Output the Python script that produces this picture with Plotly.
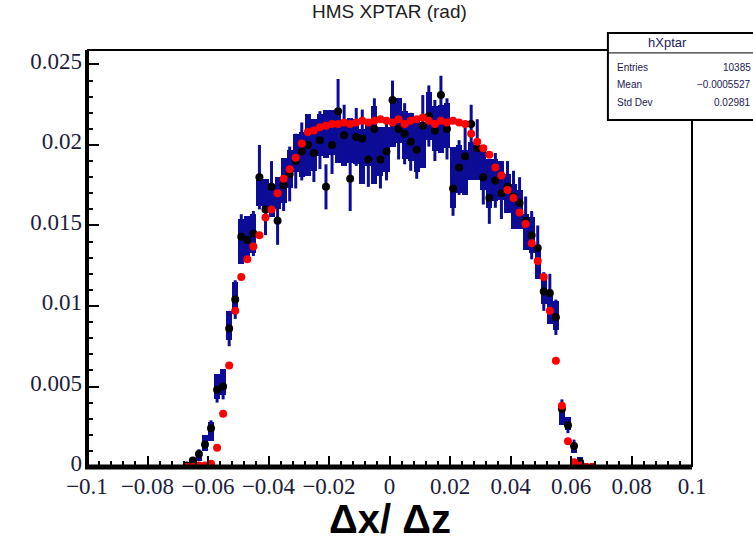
import numpy as np
import plotly.graph_objects as go

# Bin centres of the XPTAR histogram (bin width 0.002 rad), only the populated range
bin_width = 0.002
centers = np.round(np.arange(-0.067, 0.0671, bin_width), 4)

# Data set A: black markers with navy error lines
data_a = [
    0.0001, 0.0004, 0.0008, 0.0014, 0.0024, 0.0048, 0.0050, 0.0086, 0.0104, 0.0143,
    0.0141, 0.0145, 0.0180, 0.0160, 0.0174, 0.0153, 0.0175, 0.0182, 0.0190, 0.0196,
    0.0200, 0.0195, 0.0203, 0.0174, 0.0200, 0.0221, 0.0206, 0.0179, 0.0205, 0.0204,
    0.0191, 0.0210, 0.0191, 0.0196, 0.0228, 0.0210, 0.0207, 0.0202, 0.0197, 0.0212,
    0.0218, 0.0209, 0.0231, 0.0210, 0.0173, 0.0186, 0.0193, 0.0213, 0.0198, 0.0180,
    0.0167, 0.0178, 0.0170, 0.0174, 0.0168, 0.0164, 0.0153, 0.0144, 0.0136, 0.0109,
    0.0108, 0.0093, 0.0036, 0.0026, 0.0013, 0.0003, 0.0000, 0.0000,
]
err_a = [
    0.0001, 0.0002, 0.0003, 0.0004, 0.0005, 0.0008, 0.0008, 0.0011, 0.0012, 0.0014,
    0.0014, 0.0014, 0.0020, 0.0016, 0.0016, 0.0015, 0.0016, 0.0017, 0.0017, 0.0018,
    0.0018, 0.0018, 0.0018, 0.0014, 0.0018, 0.0020, 0.0019, 0.0020, 0.0018, 0.0018,
    0.0017, 0.0019, 0.0018, 0.0018, 0.0012, 0.0019, 0.0019, 0.0018, 0.0018, 0.0019,
    0.0019, 0.0019, 0.0012, 0.0019, 0.0017, 0.0017, 0.0018, 0.0012, 0.0018, 0.0017,
    0.0016, 0.0017, 0.0016, 0.0016, 0.0016, 0.0016, 0.0015, 0.0015, 0.0014, 0.0012,
    0.0012, 0.0011, 0.0006, 0.0005, 0.0004, 0.0002, 0.0001, 0.0000,
]

# Data set B: navy error boxes (centre and half-height)
data_b = [
    0.0001, 0.0003, 0.0007, 0.0015, 0.0022, 0.0050, 0.0053, 0.0088, 0.0105, 0.0140,
    0.0143, 0.0145, 0.0170, 0.0170, 0.0165, 0.0170, 0.0178, 0.0185, 0.0195, 0.0194,
    0.0200, 0.0200, 0.0206, 0.0207, 0.0208, 0.0204, 0.0200, 0.0203, 0.0202, 0.0193,
    0.0200, 0.0200, 0.0196, 0.0197, 0.0214, 0.0215, 0.0206, 0.0205, 0.0200, 0.0200,
    0.0218, 0.0210, 0.0210, 0.0212, 0.0180, 0.0185, 0.0183, 0.0190, 0.0189, 0.0185,
    0.0176, 0.0178, 0.0178, 0.0170, 0.0162, 0.0160, 0.0146, 0.0144, 0.0126, 0.0109,
    0.0098, 0.0094, 0.0030, 0.0027, 0.0012, 0.0004, 0.0001, 0.0000,
]
err_b = [
    0.0001, 0.0002, 0.0003, 0.0005, 0.0006, 0.0008, 0.0008, 0.0009, 0.0010, 0.0014,
    0.0013, 0.0012, 0.0008, 0.0009, 0.0010, 0.0010, 0.0014, 0.0012, 0.0012, 0.0014,
    0.0019, 0.0016, 0.0013, 0.0015, 0.0014, 0.0015, 0.0013, 0.0014, 0.0014, 0.0017,
    0.0013, 0.0024, 0.0015, 0.0014, 0.0015, 0.0014, 0.0015, 0.0015, 0.0017, 0.0014,
    0.0015, 0.0014, 0.0015, 0.0014, 0.0019, 0.0015, 0.0014, 0.0012, 0.0011, 0.0013,
    0.0015, 0.0013, 0.0012, 0.0012, 0.0014, 0.0012, 0.0011, 0.0011, 0.0009, 0.0008,
    0.0009, 0.0009, 0.0004, 0.0004, 0.0003, 0.0002, 0.0001, 0.0000,
]

# Simulation: red markers
sim = [
    0.0000, 0.0000, 0.0001, 0.0001, 0.0002, 0.0012, 0.0033, 0.0063, 0.0097, 0.0118,
    0.0129, 0.0137, 0.0144, 0.0155, 0.0160, 0.0170, 0.0179, 0.0185, 0.0192, 0.0201,
    0.0208, 0.0209, 0.0211, 0.0212, 0.0213, 0.0213, 0.0214, 0.0213, 0.0214, 0.0215,
    0.0214, 0.0215, 0.0216, 0.0215, 0.0214, 0.0216, 0.0213, 0.0215, 0.0216, 0.0217,
    0.0215, 0.0213, 0.0215, 0.0214, 0.0215, 0.0214, 0.0213, 0.0207, 0.0202, 0.0198,
    0.0194, 0.0186, 0.0181, 0.0172, 0.0167, 0.0158, 0.0151, 0.0139, 0.0128, 0.0118,
    0.0097, 0.0066, 0.0038, 0.0016, 0.0003, 0.0001, 0.0000, 0.0000,
]

x_ticks = [-0.1, -0.08, -0.06, -0.04, -0.02, 0, 0.02, 0.04, 0.06, 0.08, 0.1]
x_tick_text = ["\u22120.1", "\u22120.08", "\u22120.06", "\u22120.04", "\u22120.02", "0",
               "0.02", "0.04", "0.06", "0.08", "0.1"]
y_ticks = [0, 0.005, 0.01, 0.015, 0.02, 0.025]
y_tick_text = ["0", "0.005", "0.01", "0.015", "0.02", "0.025"]

stats_rows = [("Entries", "10385"), ("Mean", "\u22120.0005527"), ("Std Dev", "0.02981")]

NAVY = "#0c0c96"

fig = go.Figure()

# Error boxes of data set B
box_lo = [v - e for v, e in zip(data_b, err_b)]
box_h = [max(2 * e, 0.00015) for e in err_b]
fig.add_trace(go.Bar(
    x=centers, y=box_h, base=box_lo, width=bin_width,
    marker=dict(color=NAVY, line=dict(width=0)), showlegend=False,
))

# Data set A with its error lines
fig.add_trace(go.Scatter(
    x=centers, y=data_a, mode="markers",
    marker=dict(color="black", size=8),
    error_y=dict(type="data", array=err_a, color=NAVY, thickness=3, width=0),
    showlegend=False,
))

# Simulation
fig.add_trace(go.Scatter(
    x=centers, y=sim, mode="markers",
    marker=dict(color="#ff0000", size=8),
    showlegend=False,
))

axis_font = dict(family="Liberation Serif", size=23, color="#1c1c3c")

fig.update_xaxes(
    range=[-0.1, 0.1], tickvals=x_ticks, ticktext=x_tick_text,
    ticks="inside", ticklen=11, tickwidth=2, tickcolor="black",
    minor=dict(dtick=0.004, tick0=0, ticks="inside", ticklen=6, tickwidth=2, tickcolor="black"),
    showgrid=False, zeroline=False, showline=False, tickfont=axis_font,
    ticklabelstandoff=3,
)
fig.update_yaxes(
    range=[0, 0.0259], tickvals=y_ticks, ticktext=y_tick_text,
    ticks="inside", ticklen=12, tickwidth=2, tickcolor="black",
    minor=dict(dtick=0.001, tick0=0, ticks="inside", ticklen=6, tickwidth=2, tickcolor="black"),
    showgrid=False, zeroline=False, showline=False, tickfont=axis_font,
    ticklabelstandoff=4, ticklabelshift=-4,
)

# Frame: heavy left/bottom axes, lighter top/right edges
shapes = [
    dict(type="line", xref="paper", yref="paper", x0=0, x1=1, y0=1, y1=1,
         line=dict(color="black", width=2)),
    dict(type="line", xref="paper", yref="paper", x0=1, x1=1, y0=0, y1=1,
         line=dict(color="black", width=2)),
    dict(type="line", xref="paper", yref="paper", x0=0, x1=0, y0=-0.005, y1=1,
         line=dict(color="black", width=4)),
    dict(type="line", xref="paper", yref="paper", x0=-0.003, x1=1, y0=0, y1=0,
         line=dict(color="black", width=5)),
]

# Statistics box
bx0, bx1, by0, by1, byh = 0.861, 1.11, 0.832, 1.041, 0.993
shapes += [
    dict(type="rect", xref="paper", yref="paper", x0=bx0, x1=bx1, y0=by0, y1=by1,
         fillcolor="white", line=dict(color="black", width=2), layer="above"),
    dict(type="line", xref="paper", yref="paper", x0=bx0, x1=bx1, y0=byh, y1=byh,
         line=dict(color="black", width=1), layer="above"),
]

annotations = [
    dict(text="hXptar", x=0.96, y=1.018, xref="paper", yref="paper",
         showarrow=False, xanchor="center", yanchor="middle",
         font=dict(family="Liberation Sans", size=13, color="#202060")),
    dict(text="HMS XPTAR (rad)", x=0.5, y=1.092, xref="paper", yref="paper",
         showarrow=False, xanchor="center", yanchor="middle",
         font=dict(family="Liberation Sans", size=19, color="#202020")),
    dict(text="<b>\u0394x/ \u0394z</b>", x=0.5, y=-0.125, xref="paper", yref="paper",
         showarrow=False, xanchor="center", yanchor="middle",
         font=dict(family="Liberation Sans", size=40, color="black")),
]
row_y = [0.958, 0.917, 0.874]
for (name, val), ry in zip(stats_rows, row_y):
    annotations.append(dict(text=name, x=0.872, y=ry, xref="paper", yref="paper",
                            showarrow=False, xanchor="left", yanchor="middle",
                            font=dict(family="Liberation Sans", size=10, color="#202050")))
    annotations.append(dict(text=val, x=1.1, y=ry, xref="paper", yref="paper",
                            showarrow=False, xanchor="right", yanchor="middle",
                            font=dict(family="Liberation Sans", size=10, color="#202050")))

fig.update_layout(
    width=753, height=541,
    margin=dict(l=87, r=61, t=50, b=74),
    paper_bgcolor="white", plot_bgcolor="white",
    barmode="overlay", bargap=0,
    shapes=shapes, annotations=annotations,
)

fig.write_html("out.html")
